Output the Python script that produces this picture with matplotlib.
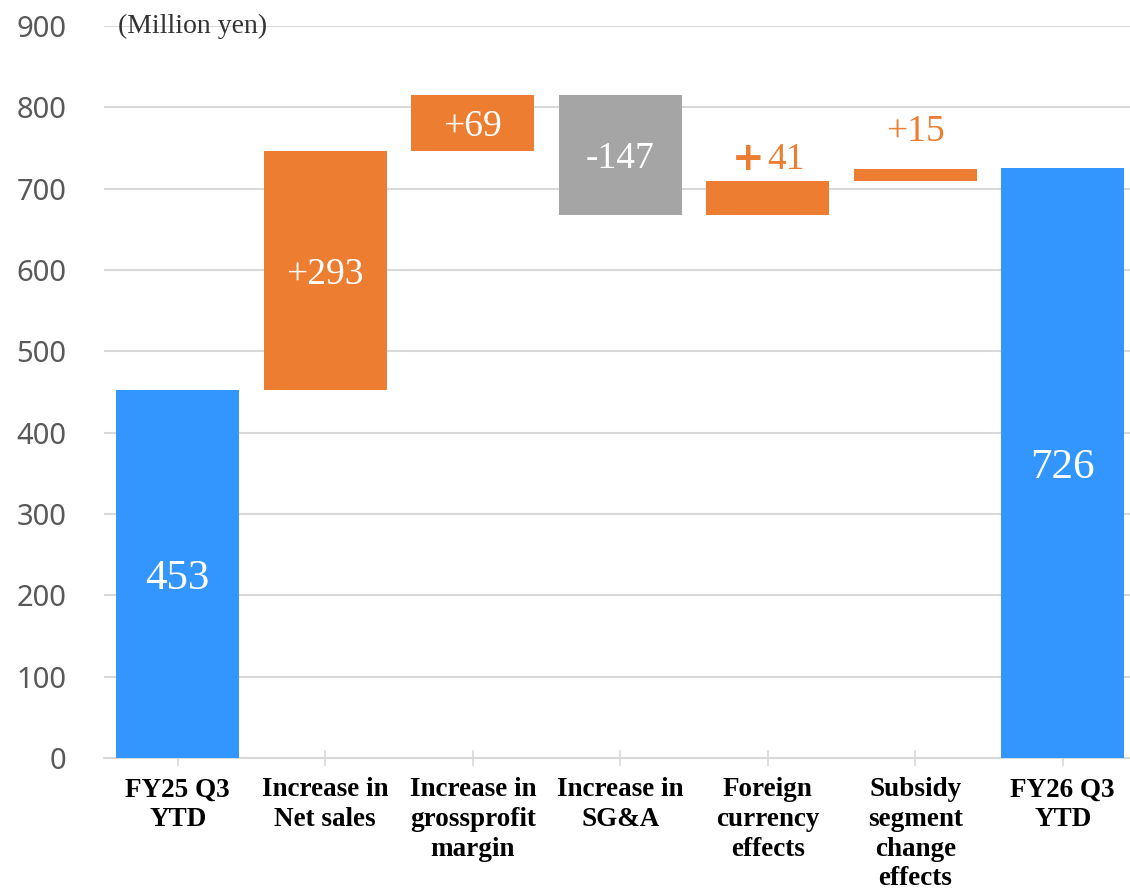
import matplotlib
matplotlib.use("Agg")
import matplotlib.pyplot as plt

# Operating profit bridge (million yen)
categories = ["FY25 Q3\nYTD", "Increase in\nNet sales", "Increase in\ngrossprofit\nmargin",
              "Increase in\nSG&A", "Foreign\ncurrency\neffects", "Subsidy\nsegment\nchange\neffects",
              "FY26 Q3\nYTD"]
start_value = 453
changes = [293, 69, -147, 41, 15]
end_value = 726
value_labels = ["453", "+293", "+69", "-147", "+41", "+15", "726"]
y_ticks = [0, 100, 200, 300, 400, 500, 600, 700, 800, 900]

BLUE = "#3396FF"
ORANGE = "#ED7D31"
GRAY = "#A5A5A5"
GRID = "#D9D9D9"

W, H = 1130, 891
fig = plt.figure(figsize=(W / 100, H / 100), dpi=100)
ax = fig.add_axes([104 / W, (H - 758) / H, 1 - 104 / W, (758 - 26) / H])

# Build waterfall segments
bottoms, heights, colors = [0], [start_value], [BLUE]
running = start_value
for c in changes:
    lo = running if c >= 0 else running + c
    bottoms.append(lo)
    heights.append(abs(c))
    colors.append(ORANGE if c >= 0 else GRAY)
    running += c
bottoms.append(0)
heights.append(end_value)
colors.append(BLUE)

x = list(range(len(categories)))
width = 0.835
ax.bar(x, heights, bottom=bottoms, width=width, color=colors, zorder=3)

ax.set_xlim(-0.5, -0.5 + (W - 104) / 147.5)
ax.set_ylim(0, 900)
ax.set_yticks(y_ticks)
ax.yaxis.grid(True, color=GRID, linewidth=1.5, zorder=0)
ax.set_axisbelow(True)
for s in ["top", "right", "left"]:
    ax.spines[s].set_visible(False)
ax.spines["bottom"].set_color(GRID)
ax.spines["bottom"].set_linewidth(1.5)
ax.tick_params(axis="y", length=0, pad=27, labelsize=21, labelcolor="#595959")
for lbl in ax.get_yticklabels():
    lbl.set_fontfamily("Noto Sans")
ax.tick_params(axis="x", direction="inout", length=12, width=1.2, color=GRID, pad=8)
ax.set_xticks(x)
ax.set_xticklabels(categories, fontfamily="Liberation Serif", fontweight="bold",
                   fontsize=19.5, color="#000000", linespacing=1.24, va="top")

# Value labels
serif = "Liberation Serif"
for i, (b, h, lab) in enumerate(zip(bottoms, heights, value_labels)):
    if i in (0, len(bottoms) - 1):
        ax.text(i, b + h / 2, lab, ha="center", va="center_baseline", color="white",
                fontsize=31, fontfamily=serif)
    elif h >= 50:
        ax.text(i, b + h / 2, lab, ha="center", va="center_baseline", color="white",
                fontsize=27, fontfamily=serif)
    elif lab.startswith("+") and i == 4:
        # bold plus sign followed by the number
        ax.text(i - 0.245, b + h + 4, "+", ha="left", va="bottom", color=ORANGE,
                fontsize=28, fontweight="bold", fontfamily="DejaVu Sans")
        ax.text(i - 0.005, b + h + 5, lab[1:], ha="left", va="bottom", color=ORANGE,
                fontsize=27, fontfamily=serif)
    else:
        ax.text(i, b + h + 25, lab, ha="center", va="bottom", color=ORANGE,
                fontsize=27, fontfamily=serif)

ax.text(118 / W, (H - 26) / H, "(Million yen)", transform=fig.transFigure,
        ha="left", va="center", fontsize=20, fontfamily=serif, color="#333333")

fig.savefig("out.png", dpi=100)
